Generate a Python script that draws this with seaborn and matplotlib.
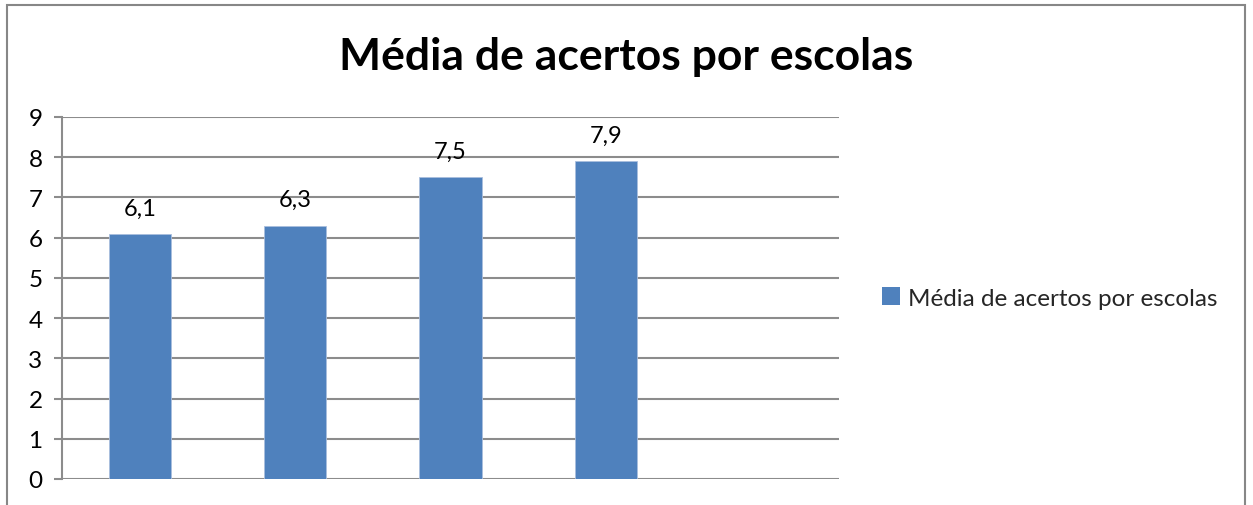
import matplotlib
matplotlib.use("Agg")
import matplotlib.pyplot as plt
from matplotlib.patches import Patch, Rectangle
import seaborn as sns
import pandas as pd

# Chart data
escolas = ["Escola A", "Escola B", "Escola C", "Escola D"]
medias = [6.1, 6.3, 7.5, 7.9]
slots = escolas + [" "]  # trailing empty category slot
titulo = "Média de acertos por escolas"
serie = "Média de acertos por escolas"
y_ticks = [0, 1, 2, 3, 4, 5, 6, 7, 8, 9]

BAR = "#4F81BD"
GRID = "#8C8C8C"
FONT = ["Lato", "DejaVu Sans"]

sns.set_theme(style="white")
plt.rcParams["font.family"] = FONT

W, H, DPI = 1253, 506, 100
fig = plt.figure(figsize=(W / DPI, H / DPI), dpi=DPI)
fig.patch.set_facecolor("white")

ax = fig.add_axes([62 / W, 1 - 480 / H, (839 - 62) / W, (480 - 118) / H])

df = pd.DataFrame({"escola": escolas, "media": medias})
sns.barplot(data=df, x="escola", y="media", order=slots, color=BAR,
            saturation=1, width=0.4, ax=ax, zorder=3,
            edgecolor="#A9BEDD", linewidth=0.6)

ax.set_xlim(-0.5, len(slots) - 0.5)
ax.set_ylim(0, 9)
ax.set_yticks(y_ticks)
ax.set_xticks([])
ax.set_xlabel("")
ax.set_ylabel("")

for spine in ["top", "right", "bottom"]:
    ax.spines[spine].set_visible(False)
ax.spines["left"].set_color(GRID)
ax.spines["left"].set_linewidth(1.5)

ax.yaxis.grid(True, color=GRID, linewidth=1.5, zorder=0)
ax.set_axisbelow(True)
ax.tick_params(axis="y", which="both", left=True, length=6, width=1.5,
               color=GRID, pad=8, labelsize=17.5, labelcolor="black")

# Value labels with decimal comma
for bar, v in zip(ax.patches, medias):
    ax.annotate(f"{v:.1f}".replace(".", ","),
                xy=(bar.get_x() + bar.get_width() / 2, v),
                xytext=(0, 11), textcoords="offset points",
                ha="center", va="bottom", fontsize=17, color="black")

fig.text(626 / W, 1 - 57 / H, titulo, ha="center", va="center",
         fontsize=32, fontweight="bold", color="black")

handle = Patch(facecolor=BAR, edgecolor="none", label=serie)
fig.legend(handles=[handle], loc="center left",
           bbox_to_anchor=(872 / W, 1 - 299 / H), frameon=False,
           fontsize=17.5, handlelength=0.75, handleheight=0.75,
           handletextpad=0.35, borderaxespad=0)

# Chart area frame (bottom edge runs past the canvas)
fig.add_artist(Rectangle((7 / W, -0.05), (1245 - 7) / W, 1.05 - 6 / H,
                         transform=fig.transFigure, fill=False,
                         edgecolor="#878787", linewidth=1.5))

fig.savefig("out.png", dpi=DPI, facecolor="white")
